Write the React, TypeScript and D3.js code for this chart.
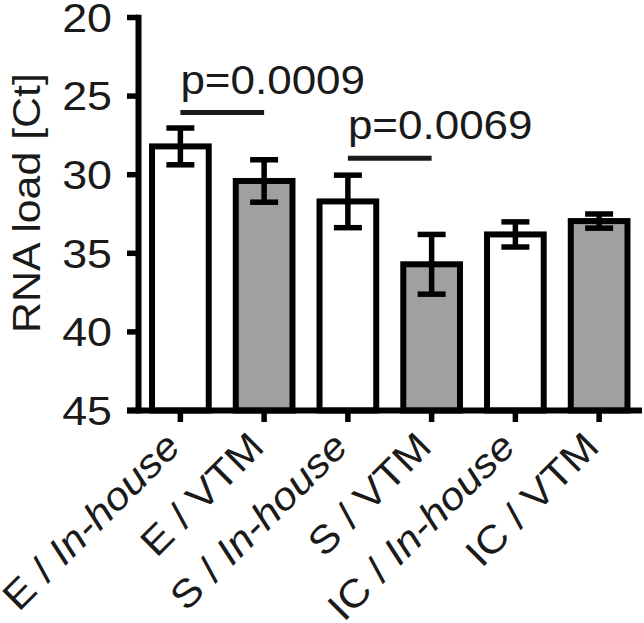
import React from "react";
import * as d3 from "d3";

const categories = ["E / In-house", "E / VTM", "S / In-house", "S / VTM", "IC / In-house", "IC / VTM"];
const labelPrefix = ["E / ", "E / ", "S / ", "S / ", "IC / ", "IC / "];
const labelSuffix = ["In-house", "VTM", "In-house", "VTM", "In-house", "VTM"];
const suffixItalic = [true, false, true, false, true, false];
const means = [28.2, 30.4, 31.7, 35.7, 33.8, 32.95];
const errors = [1.17, 1.35, 1.67, 1.9, 0.8, 0.45];
const isGray = [false, true, false, true, false, true];
const yTicks = [20, 25, 30, 35, 40, 45];
const compFrom = [0, 2];
const compTo = [1, 3];
const compLabel = ["p=0.0009", "p=0.0069"];
const compLevel = [26.05, 28.95];

const W = 644;
const H = 623;
const FONT = "'Liberation Sans', Arial, Helvetica, sans-serif";

export default function App() {
  const y = d3.scaleLinear().domain([20, 45]).range([17.5, 410.5]);
  const x = d3
    .scaleBand<string>()
    .domain(categories)
    .range([138.5, 641])
    .paddingInner(0.323)
    .paddingOuter(0.1615);
  const bw = x.bandwidth();
  const cx = (i: number) => (x(categories[i]) as number) + bw / 2;
  const axisX = 138.5;
  const axisY = y(45);
  const capHalf = 14;

  return (
    <svg width={W} height={H} style={{ position: "absolute", left: 0, top: 0, background: "#fff" }}>
      <rect x={0} y={0} width={W} height={H} fill="#fff" />
      {/* bars */}
      {categories.map((c, i) => (
        <rect
          key={c}
          x={x(c) as number}
          y={y(means[i])}
          width={bw}
          height={axisY - y(means[i])}
          fill={isGray[i] ? "#a0a0a0" : "#ffffff"}
          stroke="#000"
          strokeWidth={6}
        />
      ))}
      {/* error bars */}
      {categories.map((c, i) => {
        const x0 = cx(i);
        const t = y(means[i] - errors[i]);
        const b = y(means[i] + errors[i]);
        return (
          <g key={"e" + c} stroke="#000" strokeWidth={5.5}>
            <line x1={x0} x2={x0} y1={t} y2={b} />
            <line x1={x0 - capHalf} x2={x0 + capHalf} y1={t} y2={t} />
            <line x1={x0 - capHalf} x2={x0 + capHalf} y1={b} y2={b} />
          </g>
        );
      })}
      {/* axes */}
      <line x1={axisX} x2={axisX} y1={y(20) - 2.75} y2={axisY + 3} stroke="#000" strokeWidth={6} />
      <line x1={127} x2={642} y1={axisY} y2={axisY} stroke="#000" strokeWidth={6} />
      {yTicks.map((t) => (
        <g key={"yt" + t}>
          <line x1={127} x2={axisX} y1={y(t)} y2={y(t)} stroke="#000" strokeWidth={5.5} />
          <text
            transform={`translate(112,${y(t) + 14.3}) scale(1.12,1)`}
            textAnchor="end"
            fontFamily={FONT}
            fontSize={40}
            fill="#1a1a1a"
          >
            {t}
          </text>
        </g>
      ))}
      {categories.map((c, i) => (
        <g key={"xt" + c}>
          <line x1={cx(i)} x2={cx(i)} y1={axisY} y2={axisY + 11.5} stroke="#000" strokeWidth={5.5} />
          <text
            transform={`translate(${cx(i) + 2},449) rotate(-45) scale(1.1,1)`}
            textAnchor="end"
            fontFamily={FONT}
            fontSize={39}
            fill="#1a1a1a"
          >
            <tspan>{labelPrefix[i]}</tspan>
            <tspan fontStyle={suffixItalic[i] ? "italic" : "normal"}>{labelSuffix[i]}</tspan>
          </text>
        </g>
      ))}
      {/* y label */}
      <text
        transform={`translate(40,203) rotate(-90) scale(1.1,1)`}
        textAnchor="middle"
        fontFamily={FONT}
        fontSize={39}
        fill="#1a1a1a"
      >
        RNA load [Ct]
      </text>
      {/* comparisons */}
      {compLabel.map((lab, k) => {
        const x1 = cx(compFrom[k]);
        const x2 = cx(compTo[k]);
        const ly = y(compLevel[k]);
        return (
          <g key={"c" + k}>
            <line x1={x1} x2={x2} y1={ly} y2={ly} stroke="#1a1a1a" strokeWidth={5} />
            <text
              transform={`translate(${x1},${ly - 19}) scale(1.1,1)`}
              textAnchor="start"
              fontFamily={FONT}
              fontSize={40}
              fill="#1a1a1a"
            >
              {lab}
            </text>
          </g>
        );
      })}
    </svg>
  );
}
